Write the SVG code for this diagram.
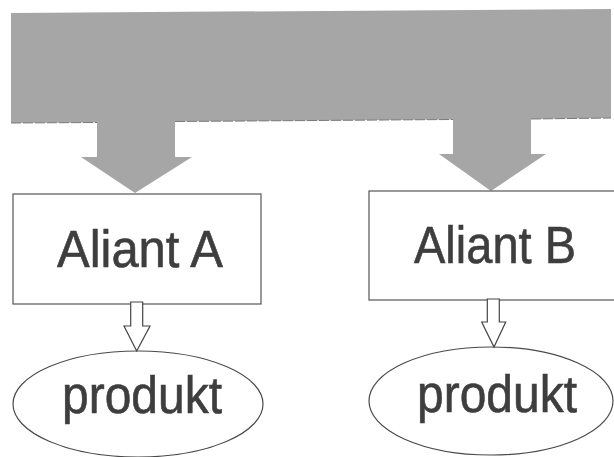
<svg xmlns="http://www.w3.org/2000/svg" width="614" height="457" viewBox="0 0 614 457">
  <style>
    .box { fill: #ffffff; stroke: #555555; stroke-width: 1.2; }
    .oval { fill: #ffffff; stroke: #4a4a4a; stroke-width: 1.2; }
    .label { font-family: "Liberation Sans", Arial, sans-serif; font-size: 51px; fill: #3e3e3e; stroke: #3e3e3e; stroke-width: 0.6; text-anchor: middle; }
    .big { fill: #a6a6a6; stroke: none; }
    .edge { stroke: #7a7a7a; stroke-width: 1; stroke-dasharray: 10 2; }
    .small { fill: #ffffff; stroke: #454545; stroke-width: 1.2; stroke-linejoin: miter; }
  </style>

  <!-- wide grey banner splitting into two down arrows -->
  <g id="banner">
    <polygon class="big" points="11,13 611,9 611,118 531,119 531,154 546,154 491,191 439,154 453,154 453,119.5 175,121.5 175,157 192,157 135,193 81,157 97,157 97,122.5 11,123"/>
    <line class="edge" x1="11" y1="123" x2="97" y2="122.5"/>
    <line class="edge" x1="175" y1="121.5" x2="453" y2="119.5"/>
    <line class="edge" x1="531" y1="119" x2="611" y2="118"/>
  </g>

  <g id="aliant-a">
    <rect class="box" x="13" y="194" width="248" height="110"/>
    <text class="label" x="140" y="267" textLength="166" lengthAdjust="spacingAndGlyphs">Aliant A</text>
  </g>

  <g id="aliant-b">
    <rect class="box" x="369" y="191" width="250" height="109"/>
    <text class="label" x="495" y="263" textLength="162" lengthAdjust="spacingAndGlyphs">Aliant B</text>
  </g>

  <g id="produkt-a">
    <ellipse class="oval" cx="138" cy="404" rx="125" ry="53"/>
    <text class="label" x="142" y="413" textLength="160" lengthAdjust="spacingAndGlyphs">produkt</text>
  </g>

  <g id="produkt-b">
    <ellipse class="oval" cx="491" cy="401" rx="122" ry="54"/>
    <text class="label" x="497" y="412" textLength="160" lengthAdjust="spacingAndGlyphs">produkt</text>
  </g>

  <!-- hollow block arrows from each partner to its product -->
  <g id="connectors">
    <polygon class="small" points="130.7,302 142.7,302 142.7,326 150,326 136.7,351 124,326 130.7,326"/>
    <polygon class="small" points="487.3,299 499.3,299 499.3,322 505.7,322 494,347 481.7,322 487.3,322"/>
  </g>
</svg>
